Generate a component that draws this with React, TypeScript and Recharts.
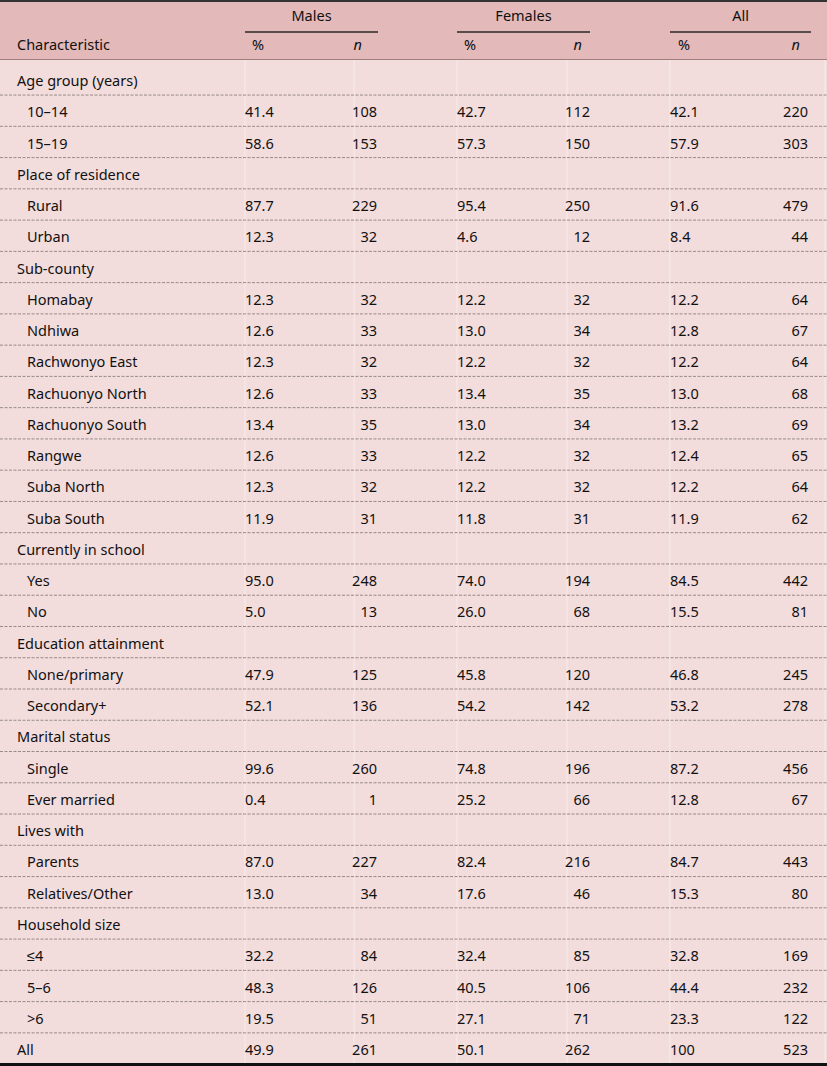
import React from 'react';
import { ScatterChart, Scatter, XAxis, YAxis, ReferenceArea, ReferenceLine } from 'recharts';

// ---------- DATA ----------
const rowLabels = [
  'Age group (years)', '10–14', '15–19',
  'Place of residence', 'Rural', 'Urban',
  'Sub-county', 'Homabay', 'Ndhiwa', 'Rachwonyo East', 'Rachuonyo North', 'Rachuonyo South', 'Rangwe', 'Suba North', 'Suba South',
  'Currently in school', 'Yes', 'No',
  'Education attainment', 'None/primary', 'Secondary+',
  'Marital status', 'Single', 'Ever married',
  'Lives with', 'Parents', 'Relatives/Other',
  'Household size', '≤4', '5–6', '>6',
  'All',
];
// 0 = section heading / total (not indented), 1 = sub-category (indented)
const rowLevel = [
  0, 1, 1,
  0, 1, 1,
  0, 1, 1, 1, 1, 1, 1, 1, 1,
  0, 1, 1,
  0, 1, 1,
  0, 1, 1,
  0, 1, 1,
  0, 1, 1, 1,
  0,
];
const N = null;
const malesPct = [N, 41.4, 58.6, N, 87.7, 12.3, N, 12.3, 12.6, 12.3, 12.6, 13.4, 12.6, 12.3, 11.9, N, 95.0, 5.0, N, 47.9, 52.1, N, 99.6, 0.4, N, 87.0, 13.0, N, 32.2, 48.3, 19.5, 49.9];
const malesN = [N, 108, 153, N, 229, 32, N, 32, 33, 32, 33, 35, 33, 32, 31, N, 248, 13, N, 125, 136, N, 260, 1, N, 227, 34, N, 84, 126, 51, 261];
const femalesPct = [N, 42.7, 57.3, N, 95.4, 4.6, N, 12.2, 13.0, 12.2, 13.4, 13.0, 12.2, 12.2, 11.8, N, 74.0, 26.0, N, 45.8, 54.2, N, 74.8, 25.2, N, 82.4, 17.6, N, 32.4, 40.5, 27.1, 50.1];
const femalesN = [N, 112, 150, N, 250, 12, N, 32, 34, 32, 35, 34, 32, 32, 31, N, 194, 68, N, 120, 142, N, 196, 66, N, 216, 46, N, 85, 106, 71, 262];
const allPct = [N, 42.1, 57.9, N, 91.6, 8.4, N, 12.2, 12.8, 12.2, 13.0, 13.2, 12.4, 12.2, 11.9, N, 84.5, 15.5, N, 46.8, 53.2, N, 87.2, 12.8, N, 84.7, 15.3, N, 32.8, 44.4, 23.3, 100];
const allN = [N, 220, 303, N, 479, 44, N, 64, 67, 64, 68, 69, 65, 64, 62, N, 442, 81, N, 245, 278, N, 456, 67, N, 443, 80, N, 169, 232, 122, 523];

const groupLabels = ['Males', 'Females', 'All'];
const subLabels = ['%', 'n'];
const stubHeader = 'Characteristic';

// ---------- LAYOUT (x in chart units = px, y in row units) ----------
const W = 827;
const H = 1066;
const Y_MIN = -2.591;
const Y_MAX = 31.51;
const HEADER_BOTTOM = -0.688;
const TABLE_BOTTOM = 31.414;
const GROUP_Y = -2.079;
const SUB_Y = -1.151;
const RULE_Y = -1.567;
const SEP_OFFSET = 0.45;

const groupSpans = [
  [245, 378],
  [457, 590],
  [670, 811],
];
const pctX = [245, 457, 670];
const nX = [377, 590, 808];
const pctHeadX = [252, 464, 678];
const nHeadX = [362, 582, 800];
const labelX = [17, 27];
const cellEdges = [245, 354, 457, 567, 670, 825];

const FONT = "'Noto Sans', sans-serif";
const FS = 14.5;

const fmtPct = (v: number) => (v === 100 ? '100' : v.toFixed(1));

type Cell = { x: number; y: number; text: string; anchor: string; italic?: boolean };

const buildCol = (vals: (number | null)[], x: number, anchor: string, fmt: (v: number) => string): Cell[] =>
  vals
    .map((v, i) => (v === null ? null : { x, y: i, text: fmt(v), anchor }))
    .filter((c): c is Cell => c !== null);

const labelCells: Cell[] = rowLabels.map((t, i) => ({ x: labelX[rowLevel[i]], y: i, text: t, anchor: 'start' }));

const valueCells: Cell[] = [
  ...buildCol(malesPct, pctX[0], 'start', fmtPct),
  ...buildCol(malesN, nX[0], 'end', (v) => String(v)),
  ...buildCol(femalesPct, pctX[1], 'start', fmtPct),
  ...buildCol(femalesN, nX[1], 'end', (v) => String(v)),
  ...buildCol(allPct, pctX[2], 'start', fmtPct),
  ...buildCol(allN, nX[2], 'end', (v) => String(v)),
];

const headerCells: Cell[] = [
  { x: labelX[0], y: SUB_Y, text: stubHeader, anchor: 'start' },
  ...groupLabels.map((g, i) => ({ x: (groupSpans[i][0] + groupSpans[i][1]) / 2, y: GROUP_Y, text: g, anchor: 'middle' })),
  ...groupLabels.map((_, i) => ({ x: pctHeadX[i], y: SUB_Y, text: subLabels[0], anchor: 'start' })),
  ...groupLabels.map((_, i) => ({ x: nHeadX[i], y: SUB_Y, text: subLabels[1], anchor: 'end', italic: true })),
];

const TextShape = (props: any) => {
  const { cx, cy, payload } = props;
  if (cx == null || cy == null) return null;
  return (
    <text
      x={cx}
      y={cy + 5}
      textAnchor={payload.anchor}
      fontFamily={FONT}
      fontSize={FS}
      fontStyle={payload.italic ? 'italic' : 'normal'}
      fill="#111111"
    >
      {payload.text}
    </text>
  );
};

const separators = rowLabels.slice(0, rowLabels.length - 1).map((_, i) => i + SEP_OFFSET);

export default function App() {
  return (
    <div style={{ position: 'absolute', left: 0, top: 0, width: W, height: H }}>
      <ScatterChart width={W} height={H} margin={{ top: 0, right: 0, bottom: 0, left: 0 }}>
        <XAxis type="number" dataKey="x" domain={[0, W]} allowDataOverflow hide />
        <YAxis type="number" dataKey="y" domain={[Y_MIN, Y_MAX]} allowDataOverflow reversed hide />
        <ReferenceArea x1={0} x2={W} y1={Y_MIN} y2={HEADER_BOTTOM} fill="#e3b9b9" fillOpacity={1} stroke="none" />
        <ReferenceArea x1={0} x2={W} y1={HEADER_BOTTOM} y2={Y_MAX} fill="#f3dcdc" fillOpacity={1} stroke="none" />
        {cellEdges.map((x) => (
          <ReferenceLine
            key={'v' + x}
            segment={[{ x, y: HEADER_BOTTOM }, { x, y: TABLE_BOTTOM }]}
            stroke="#ffffff"
            strokeOpacity={0.45}
            strokeWidth={1}
          />
        ))}
        <ReferenceArea x1={0} x2={W} y1={Y_MIN} y2={Y_MIN + 0.06} fill="#333333" fillOpacity={1} stroke="none" />
        <ReferenceArea x1={0} x2={W} y1={TABLE_BOTTOM} y2={Y_MAX} fill="#111111" fillOpacity={1} stroke="none" />
        <ReferenceLine y={HEADER_BOTTOM} stroke="#a07e80" strokeWidth={1.2} />
        {groupSpans.map(([a, b]) => (
          <ReferenceLine
            key={'g' + a}
            segment={[{ x: a, y: RULE_Y }, { x: b, y: RULE_Y }]}
            stroke="#2a2a2a"
            strokeWidth={1.3}
          />
        ))}
        {separators.map((y) => (
          <ReferenceLine key={'s' + y} y={y} stroke="#988a8b" strokeWidth={1} strokeDasharray="3 1.5" />
        ))}
        <Scatter data={headerCells} shape={TextShape} isAnimationActive={false} />
        <Scatter data={labelCells} shape={TextShape} isAnimationActive={false} />
        <Scatter data={valueCells} shape={TextShape} isAnimationActive={false} />
      </ScatterChart>
    </div>
  );
}
